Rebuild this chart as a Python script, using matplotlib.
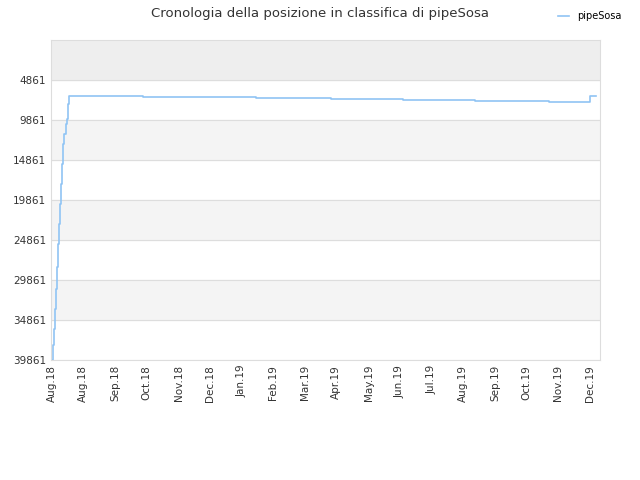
import matplotlib
matplotlib.use('Agg')
import matplotlib.pyplot as plt

# days since start (Aug.18) and rank position
days = [0, 1, 2, 3, 4, 5, 6, 7, 8, 9, 10, 11, 12, 13, 14, 15, 16, 88, 197, 269, 338, 408, 479, 517, 518, 524]
ranks = [39861, 38000, 36000, 33500, 31000, 28200, 25400, 22900, 20400, 17900, 15400, 12900, 11600, 10400, 9700, 7900, 6861,
         6986, 7111, 7236, 7361, 7486, 7611, 7611, 6861, 6861]

tick_days = [0, 30, 61, 91, 122, 152, 183, 213, 244, 274, 305, 335, 366, 396, 427, 457, 488, 518]
tick_labels = ['Aug.18', 'Aug.18', 'Sep.18', 'Oct.18', 'Nov.18', 'Dec.18', 'Jan.19', 'Feb.19', 'Mar.19',
               'Apr.19', 'May.19', 'Jun.19', 'Jul.19', 'Aug.19', 'Sep.19', 'Oct.19', 'Nov.19', 'Dec.19']
y_ticks = [4861, 9861, 14861, 19861, 24861, 29861, 34861, 39861]

fig = plt.figure(figsize=(6.4, 4.8), dpi=100)
ax = fig.add_axes([51/640, 120/480, 549/640, 320/480])

# alternating bands
bands = [(-139, 4861, '#eeeeee'), (9861, 14861, '#f4f4f4'), (19861, 24861, '#f4f4f4'), (29861, 34861, '#f4f4f4')]
for lo, hi, c in bands:
    ax.axhspan(lo, hi, color=c, zorder=0)

ax.plot(days, ranks, drawstyle='steps-post', color='#90c4f4', lw=1.2, label='pipeSosa')
ax.set_ylim(39861, -139)
ax.set_xlim(-1, 528)
ax.set_yticks(y_ticks)
ax.set_yticklabels([str(v) for v in y_ticks], fontsize=7.5, color='#333333')
ax.set_xticks(tick_days)
ax.set_xticklabels(tick_labels, rotation=90, fontsize=7.5, color='#333333')
ax.grid(axis='y', color='#dddddd', lw=0.8)
ax.tick_params(length=0)
for s in ax.spines.values():
    s.set_color('#dddddd')

fig.suptitle('Cronologia della posizione in classifica di pipeSosa', fontsize=9.5, color='#333333', y=0.985)
fig.legend(loc='upper right', bbox_to_anchor=(0.985, 0.995), frameon=False, fontsize=7, handlelength=1.2)
fig.savefig('out.png')
